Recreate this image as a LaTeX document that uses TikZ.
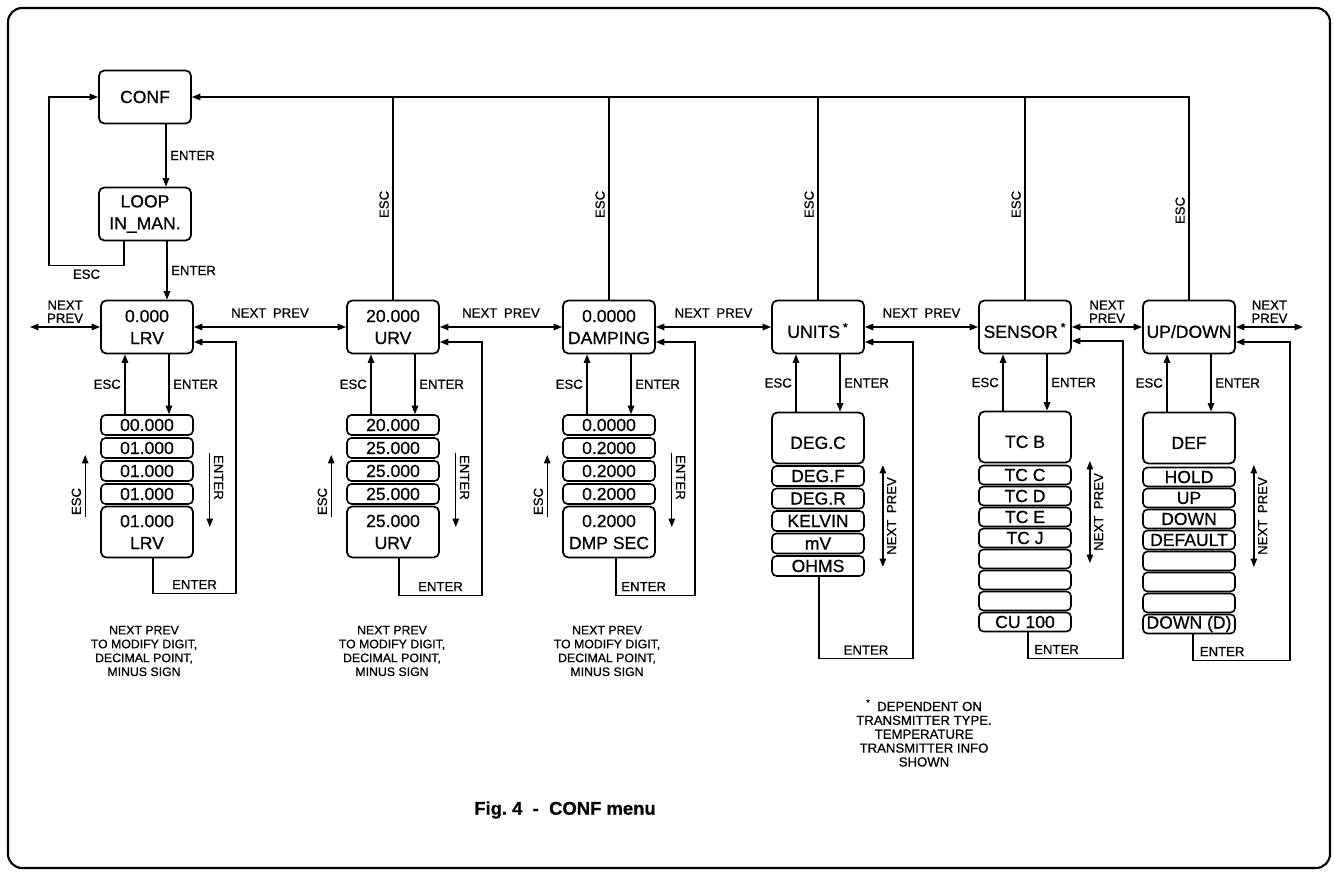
\documentclass[tikz,border=0pt]{standalone}
\usepackage{fontspec}
\setmainfont{Liberation Sans}[FakeBold=0.7]
\usetikzlibrary{positioning,arrows.meta,calc}

\begin{document}
\begin{tikzpicture}[
  x=0.02cm,y=-0.02cm,
  font=\fontsize{10}{12.5}\selectfont,
  line width=0.8pt,
  menu/.style={draw,line width=1pt,rounded corners=3pt,minimum width=1.84cm,
               minimum height=1.06cm,inner sep=0pt,align=center},
  row/.style={draw,line width=0.9pt,rounded corners=2.5pt,minimum width=1.84cm,
              minimum height=0.4cm,inner sep=0pt},
  srow/.style={row,minimum height=0.38cm},
  bigrow/.style={menu,minimum height=1.02cm},
  lbl/.style={font=\fontsize{7.5}{7.5}\selectfont,inner sep=2pt,align=center},
  note/.style={font=\fontsize{7}{7.9}\selectfont,align=center},
  >={Triangle[length=1.7mm,width=1.3mm]}
]
\useasboundingbox (0,0) rectangle (1334,874);
\draw[line width=1.2pt,rounded corners=8pt] (8,8) rectangle (1330,868);

% ---- menu boxes ----
\node[menu] (conf)   at (145,97)   {CONF};
\node[menu] (loop)   at (145,214)  {LOOP\\IN\_MAN.};
\node[menu] (lrv)    at (147,327)  {0.000\\LRV};
\node[menu] (urv)    at (393,327)  {20.000\\URV};
\node[menu] (damp)   at (609,327)  {0.0000\\DAMPING};
\node[menu] (units)  at (818,327)  {\mbox{}\\UNITS\,\textsuperscript{*}};
\node[menu] (sensor) at (1025,327) {\mbox{}\\SENSOR\,\textsuperscript{*}};
\node[menu] (updown) at (1189,327) {\mbox{}\\UP/DOWN};

% ---- value stacks ----
\foreach \t [count=\i] in {00.000,01.000,01.000,01.000}
  \node[row] (lrv\i) at (147,{402+23*\i}) {\t};
\node[bigrow] (lrv5) at (147,532) {01.000\\LRV};
\foreach \t [count=\i] in {20.000,25.000,25.000,25.000}
  \node[row] (urv\i) at (393,{402+23*\i}) {\t};
\node[bigrow] (urv5) at (393,532) {25.000\\URV};
\foreach \t [count=\i] in {0.0000,0.2000,0.2000,0.2000}
  \node[row] (damp\i) at (609,{402+23*\i}) {\t};
\node[bigrow] (damp5) at (609,532) {0.2000\\DMP SEC};

% ---- option stacks ----
\node[bigrow] (units0) at (818,438) {\mbox{}\\DEG.C};
\foreach \t [count=\i] in {DEG.F,DEG.R,KELVIN,mV,OHMS}
  \node[row] (units\i) at (818,{453.5+22.5*\i}) {\t};
\node[bigrow] (sensor0) at (1025,437) {\mbox{}\\TC B};
\foreach \t [count=\i] in {TC C,TC D,TC E,TC J,{},{},{},CU 100}
  \node[srow] (sensor\i) at (1025,{454+21*\i}) {\t};
\node[bigrow] (updown0) at (1189,438) {\mbox{}\\DEF};
\foreach \t [count=\i] in {HOLD,UP,DOWN,DEFAULT,{},{},{},DOWN (D)}
  \node[srow] (updown\i) at (1189,{456+21*\i}) {\t};

% ---- conf / loop ----
\draw[->] ($(conf.south)+(21,0)$) -- node[lbl,right] (entA) {ENTER} ($(loop.north)+(21,0)$);
\draw[->] ($(loop.south)+(22,0)$) -- node[lbl,right] (entB) {ENTER} ($(lrv.north)+(20,0)$);
\draw[->] ($(loop.south)+(-21,0)$) -- ++(0,24) -- node[lbl,below] (escA) {ESC} ++(-75,0) |- (conf.west);

% ---- esc bus back to conf ----
\draw[->] (updown.north) -- node[lbl,sloped,above,pos=0.44] (escF) {ESC}
  (updown.north |- conf.east) -- (conf.east);
\foreach \b in {urv,damp,units,sensor}
  \draw (\b.north) -- node[lbl,sloped,above,pos=0.47] (esc\b) {ESC} (\b.north |- conf.east);

% ---- next / prev along the row ----
\coordinate (lin) at (30,327);
\coordinate (rout) at (1303,327);
\draw[<->] (lin) -- node[lbl,above] (npA) {NEXT\\PREV} (lrv.west);
\draw[<->] (lrv.east) -- node[lbl,above=3pt] (npB) {NEXT\enspace PREV} (urv.west);
\draw[<->] (urv.east) -- node[lbl,above=3pt] (npC) {NEXT\enspace PREV} (damp.west);
\draw[<->] (damp.east) -- node[lbl,above=3pt] (npD) {NEXT\enspace PREV} (units.west);
\draw[<->] (units.east) -- node[lbl,above=3pt] (npE) {NEXT\enspace PREV} (sensor.west);
\draw[<->] (sensor.east) -- node[lbl,above] (npF) {NEXT\\PREV} (updown.west);
\draw[<->] (updown.east) -- node[lbl,above] (npG) {NEXT\\PREV} (rout);

% ---- box <-> stack ----
\foreach \b/\f in {lrv/lrv1,urv/urv1,damp/damp1,units/units0,sensor/sensor0,updown/updown0}{
  \draw[->] ($(\f.north)+(-22,0)$) -- node[lbl,left] (up\b) {ESC} ($(\b.south)+(-22,0)$);
  \draw[->] ($(\b.south)+(22,0)$) -- node[lbl,right] (dn\b) {ENTER} ($(\f.north)+(22,0)$);
}
\foreach \b in {lrv,urv,damp}{
  \draw[->] ($(\b3.west)+(-15,46)$) -- node[lbl,sloped,above,pos=0.25] (sa\b) {ESC} ++(0,-62);
  \draw[->] ($(\b3.east)+(16,-18)$) -- node[lbl,sloped,above,pos=0.33] (sb\b) {ENTER} ++(0,74);
}
\foreach \b/\d in {units/129,sensor/126,updown/129}
  \draw[<->] ($(\b0.east)+(18,\d)$) -- node[lbl,sloped,below] (np\b) {NEXT\enspace PREV} ++(0,-102);

% ---- enter from last entry back to box ----
\draw[->] ($(lrv5.south)+(6,0)$) -- ++(0,35) -- node[lbl,above] (retA) {ENTER} ++(83,0) |- ($(lrv.east)+(0,15)$);
\draw[->] ($(urv5.south)+(6,0)$) -- ++(0,37) -- node[lbl,above] (retB) {ENTER} ++(83,0) |- ($(urv.east)+(0,15)$);
\draw[->] ($(damp5.south)+(7,0)$) -- ++(0,37) -- node[lbl,above,pos=0.35] (retC) {ENTER} ++(79,0) |- ($(damp.east)+(0,15)$);
\draw[->] ($(units5.south)+(1,0)$) -- ++(0,82) -- node[lbl,above] (retD) {ENTER} ++(94,0) |- ($(units.east)+(0,15)$);
\draw[->] ($(sensor8.south)+(3,0)$) -- ++(0,26) -- node[lbl,above,pos=0.3] (retE) {ENTER} ++(95,0) |- ($(sensor.east)+(0,14)$);
\draw[->] ($(updown8.south)+(4,0)$) -- ++(0,26) -- node[lbl,above,pos=0.3] (retF) {ENTER} ++(97,0) |- ($(updown.east)+(0,15)$);

% ---- notes ----
\node[note] (noteA) at (144,651) {NEXT PREV\\TO MODIFY DIGIT,\\DECIMAL POINT,\\MINUS SIGN};
\node[note] (noteB) at (392,651) {NEXT PREV\\TO MODIFY DIGIT,\\DECIMAL POINT,\\MINUS SIGN};
\node[note] (noteC) at (607,651) {NEXT PREV\\TO MODIFY DIGIT,\\DECIMAL POINT,\\MINUS SIGN};
\node[note,font=\fontsize{7.5}{7.9}\selectfont] (foot) at (924,733)
  {\textsuperscript{*}\enspace DEPENDENT ON\\TRANSMITTER TYPE.\\TEMPERATURE\\TRANSMITTER INFO\\SHOWN};
\node[font=\bfseries\fontsize{10.5}{12}\selectfont] (cap) at (565,810) {Fig.~4~~-~~CONF menu};
\end{tikzpicture}
\end{document}
